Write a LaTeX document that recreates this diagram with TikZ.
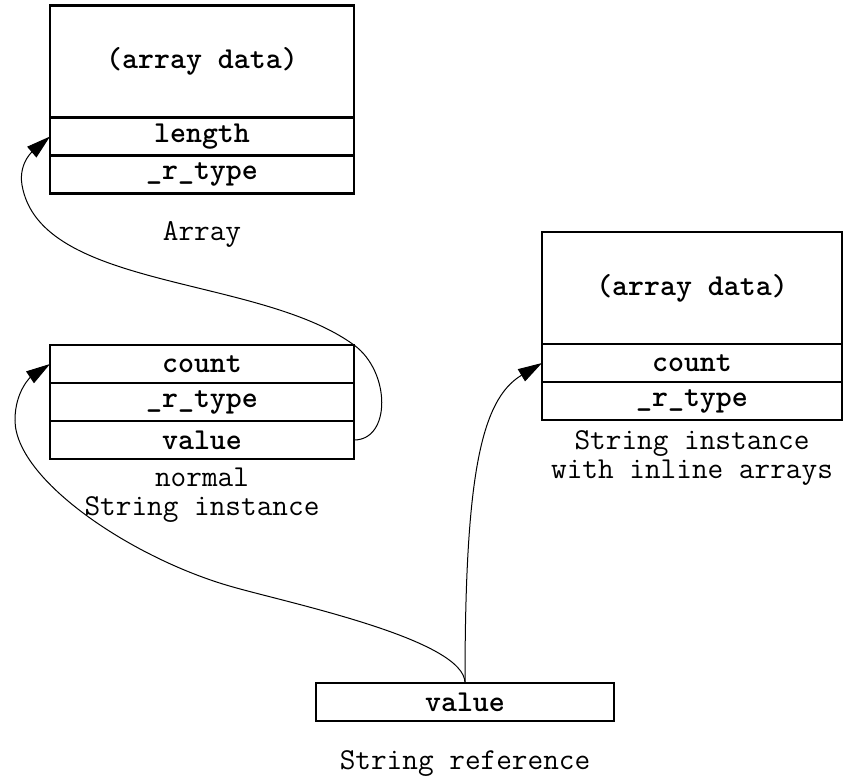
\documentclass[tikz,border=0pt]{standalone}
\usepackage{fontspec}
\usetikzlibrary{positioning,arrows.meta}

\tikzset{
  cell/.style={draw, line width=1.2pt, minimum width=152pt, minimum height=19pt,
    inner sep=0pt, outer sep=0pt, font=\fontsize{15.2}{14.5}\selectfont\ttfamily\bfseries},
  datacell/.style={cell, minimum height=56pt},
  caption/.style={align=center, inner sep=0pt, font=\fontsize{15.2}{14.5}\selectfont\ttfamily},
  ptr/.style={line width=0.5pt, -{Triangle[length=12pt,width=7pt]}},
}

\begin{document}
\begin{tikzpicture}[x=0.5pt,y=-0.5pt]
\useasboundingbox (0,0) rectangle (844,776);
% Array
\node[datacell] (adata) at (202,61.5) {(array data)};
\node[cell, below=0pt of adata] (alength) {length};
\node[cell, below=0pt of alength] (atype) {\_r\_type};
\node[caption] (acap) at (202,234) {Array};
% normal String instance
\node[cell] (ncount) at (202,364) {count};
\node[cell, below=0pt of ncount] (ntype) {\_r\_type};
\node[cell, below=0pt of ntype] (nvalue) {value};
\node[caption] (ncap) at (202,495.5) {normal\\String instance};
% String instance with inline arrays
\node[datacell, minimum width=150pt] (idata) at (692,288) {(array data)};
\node[cell, minimum width=150pt, below=0pt of idata] (icount) {count};
\node[cell, minimum width=150pt, below=0pt of icount] (itype) {\_r\_type};
\node[caption] (icap) at (692,458) {String instance\\with inline arrays};
% String reference
\node[cell, minimum width=149pt] (rvalue) at (465,702) {value};
\node[caption] (rcap) at (465,763) {String reference};
% pointers
\coordinate (bend1) at (22,185);
\coordinate (bend2) at (233,587);
\coordinate (bend3) at (15,420);
\draw[ptr] (nvalue.east) .. controls +(37,0) and +(37,27) .. (ncount.north east)
  .. controls +(-96,-70) and +(18,105) .. (bend1)
  .. controls +(-4,-24) and +(-14,12) .. (alength.west);
\draw[ptr] (rvalue.north) .. controls +(0,-43) and +(60,17) .. (bend2)
  .. controls +(-100,-28) and +(0,60) .. (bend3)
  .. controls +(0,-30) and +(-18,12) .. (ncount.west);
\draw[ptr] (rvalue.north) .. controls +(0,-203) and +(-62,37) .. (icount.west);
\end{tikzpicture}
\end{document}
